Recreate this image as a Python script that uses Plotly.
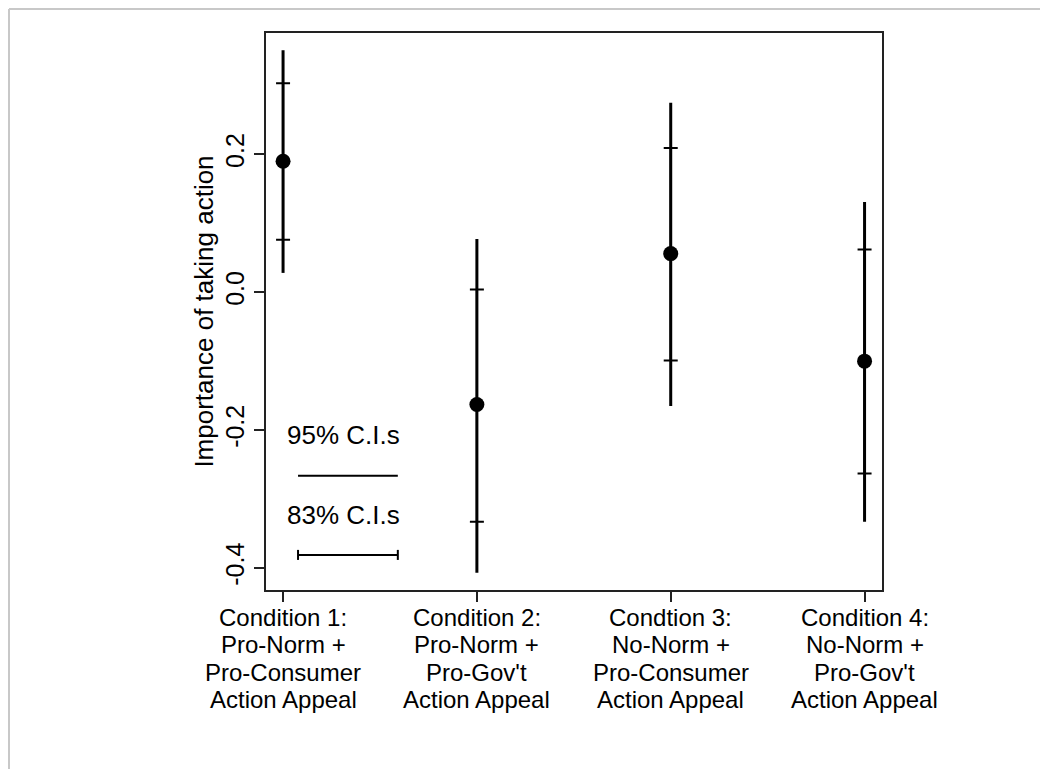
import plotly.graph_objects as go

conditions = [1, 2, 3, 4]
cond_label_lines = [
    ["Condition 1:", "Pro-Norm +", "Pro-Consumer", "Action Appeal"],
    ["Condition 2:", "Pro-Norm +", "Pro-Gov't", "Action Appeal"],
    ["Condtion 3:", "No-Norm +", "Pro-Consumer", "Action Appeal"],
    ["Condition 4:", "No-Norm +", "Pro-Gov't", "Action Appeal"],
]
means = [0.190, -0.163, 0.056, -0.100]
ci95_lo = [0.028, -0.407, -0.165, -0.333]
ci95_hi = [0.351, 0.077, 0.275, 0.131]
ci83_lo = [0.076, -0.333, -0.099, -0.263]
ci83_hi = [0.303, 0.004, 0.209, 0.062]

y_ticks = [-0.4, -0.2, 0.0, 0.2]
y_ticklabels = ["-0.4", "-0.2", "0.0", "0.2"]

FONT = "Liberation Sans, Arial, Helvetica, sans-serif"

fig = go.Figure()

fig.add_trace(go.Scatter(
    x=conditions, y=means, mode="markers",
    marker=dict(size=0.1, color="black", opacity=0),
    error_y=dict(type="data", symmetric=False,
                 array=[h - m for h, m in zip(ci95_hi, means)],
                 arrayminus=[m - l for l, m in zip(ci95_lo, means)],
                 width=0, thickness=3, color="black"),
    showlegend=False, hoverinfo="skip",
))
fig.add_trace(go.Scatter(
    x=conditions, y=means, mode="markers",
    marker=dict(size=15, color="black"),
    error_y=dict(type="data", symmetric=False,
                 array=[h - m for h, m in zip(ci83_hi, means)],
                 arrayminus=[m - l for l, m in zip(ci83_lo, means)],
                 width=7, thickness=2, color="black"),
    showlegend=False,
))

# category labels under the x axis, one line each
line_shifts = [-27, -54.5, -82, -109.5]
for xc, lines in zip(conditions, cond_label_lines):
    for txt, sh in zip(lines, line_shifts):
        fig.add_annotation(text=txt, x=xc, xref="x", y=0, yref="paper",
                           xanchor="center", yanchor="middle", yshift=sh,
                           showarrow=False, borderpad=0,
                           font=dict(family=FONT, size=24, color="black"))

# legend key (inside plot, lower left)
fig.add_annotation(text="95% C.I.s", xref="x domain", yref="y domain",
                   x=0.125, y=0.278, xanchor="center", yanchor="middle",
                   showarrow=False,
                   font=dict(family=FONT, size=26, color="black"))
fig.add_annotation(text="83% C.I.s", xref="x domain", yref="y domain",
                   x=0.125, y=0.135, xanchor="center", yanchor="middle",
                   showarrow=False,
                   font=dict(family=FONT, size=26, color="black"))
fig.add_shape(type="line", xref="x domain", yref="y domain",
              x0=0.052, x1=0.214, y0=0.205, y1=0.205,
              line=dict(color="black", width=2))
fig.add_shape(type="line", xref="x domain", yref="y domain",
              x0=0.052, x1=0.214, y0=0.063, y1=0.063,
              line=dict(color="black", width=2))
for xx in (0.052, 0.214):
    fig.add_shape(type="line", xref="x domain", yref="y domain",
                  x0=xx, x1=xx, y0=0.063 - 0.009, y1=0.063 + 0.009,
                  line=dict(color="black", width=2))

# light gray outer frame
fig.add_shape(type="line", xref="paper", yref="paper",
              x0=-0.4172, x1=1.29, y0=1.0431, y1=1.0431,
              line=dict(color="#c8c8c8", width=2))
fig.add_shape(type="line", xref="paper", yref="paper",
              x0=-0.4172, x1=-0.4172, y0=1.0431, y1=-0.34,
              line=dict(color="#c8c8c8", width=2))

fig.update_xaxes(
    range=[0.912, 4.09], tickvals=conditions, showticklabels=False,
    showgrid=False, zeroline=False, showline=True, mirror=True,
    linecolor="#222", linewidth=2, ticks="outside", ticklen=10,
    tickwidth=1.5, tickcolor="#222",
)
fig.update_yaxes(
    range=[-0.432, 0.376], tickvals=y_ticks, ticktext=y_ticklabels,
    tickangle=-90,
    showgrid=False, zeroline=False, showline=True, mirror=True,
    linecolor="#222", linewidth=2, ticks="outside", ticklen=10,
    tickwidth=1.5, tickcolor="#222",
    tickfont=dict(family=FONT, size=25, color="black"),
    title=dict(text="Importance of taking action", standoff=0,
               font=dict(family=FONT, size=26, color="black")),
)

fig.update_layout(
    width=1048, height=769,
    margin=dict(l=258, r=174, t=25, b=187),
    paper_bgcolor="white", plot_bgcolor="white",
    showlegend=False,
)

fig.write_html("out.html")
